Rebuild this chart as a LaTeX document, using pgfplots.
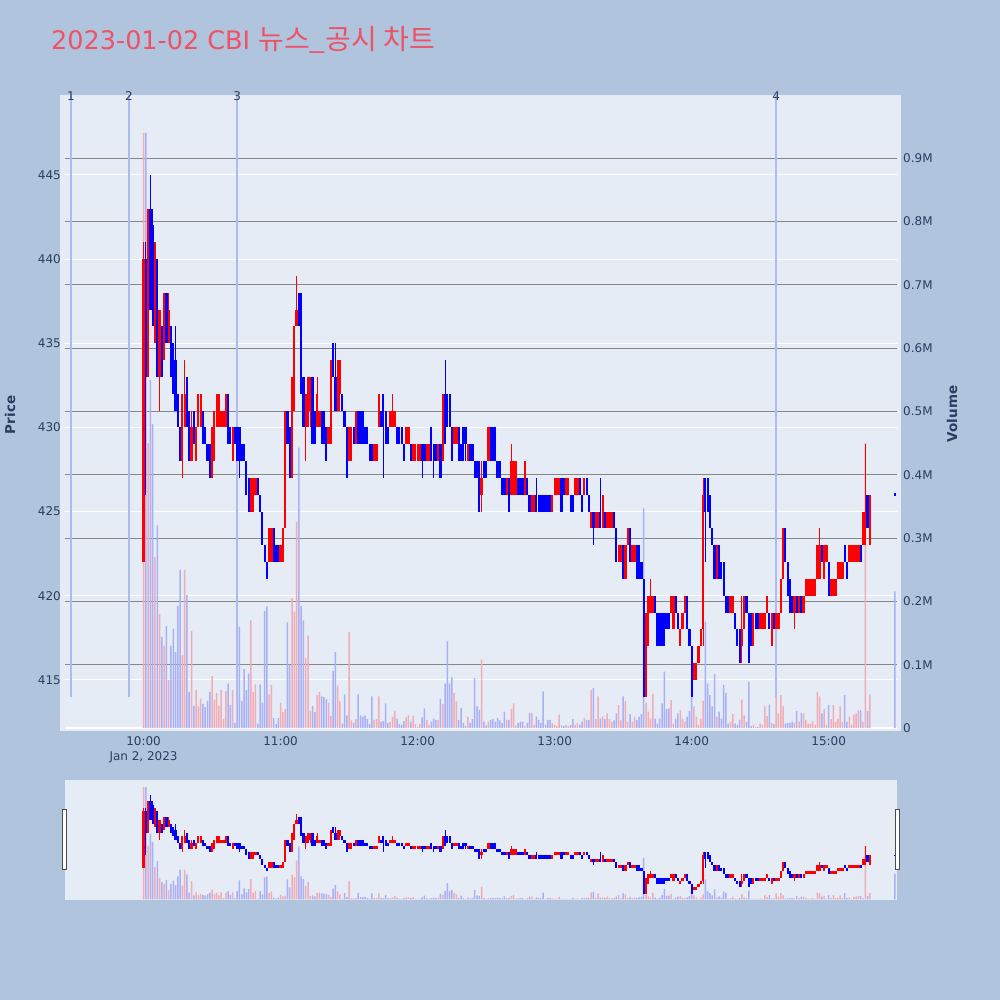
\documentclass[border=0pt]{standalone}
\usepackage{pgfplots}
\pgfplotsset{compat=1.18}
\usepackage{pgfplotstable}
\usepackage{fontspec}
\setmainfont{DejaVu Sans}
\newfontfamily\kr{Noto Sans CJK KR}
\definecolor{pagebg}{RGB}{176,196,222}
\definecolor{plotbg}{RGB}{229,236,246}
\definecolor{fontc}{RGB}{42,63,95}
\definecolor{titlec}{RGB}{238,82,102}
\definecolor{volb}{RGB}{170,176,246}
\definecolor{volr}{RGB}{242,172,182}
\definecolor{vline}{RGB}{172,188,240}
\definecolor{vgrid}{RGB}{135,135,135}
\definecolor{upc}{RGB}{255,0,0}
\definecolor{dnc}{RGB}{0,0,255}

\pgfplotstableread{
t o h l c v
0 422 441 422 440 .94
1 440 441 426 433 .94
2 433 443 433 443 .45
3 443 445 437 437 .55
4 442 443 436 436 .48
5 435 441 435 441 .27
6 440 440 433 433 .32
7 433 437 431 437 .18
8 436 436 433 433 .144
9 434 438 434 438 .13
10 438 438 435 435 .161
11 435 438 435 437 .076
12 436 436 433 433 .13
13 435 435 432 432 .157
14 434 436 431 431 .12
15 432 432 430 430 .193
16 430 430 428 428 .25
17 428 432 427 432 .115
18 430 434 430 432 .25
19 433 433 430 430 .21
20 431 431 428 428 .057
21 428 431 428 430 .153
22 431 431 429 429 .035
23 428 430 428 430 .06
24 430 432 430 432 .034
25 430 432 430 432 .046
26 431 431 429 429 .038
27 430 430 429 429 .033
28 429 429 428 428 .043
29 429 429 427 427 .057
30 427 430 427 430 .082
31 428 431 428 431 .045
32 430 432 430 432 .055
33 430 432 430 432 .035
34 430 431 430 431 .06
35 430 431 430 431 .014
36 430 432 430 432 .058
37 432 432 429 429 .07
38 430 430 429 429 .036
39 428 430 428 430 .06
40 430 430 429 429 .008
41 430 430 428 428 .07
42 430 430 427 428 .16
43 429 429 428 428 .043
44 429 429 428 428 .093
45 428 428 426 426 .06
46 427 427 425 425 .086
47 425 427 425 427 .17
48 425 427 425 427 .057
49 426 427 426 427 .069
50 427 427 426 426 .007
51 426 426 425 425 .069
52 425 425 423 423 .04
53 423 423 422 422 .185
54 422 422 421 421 .192
55 422 424 422 424 .053
56 422 424 422 424 .068
57 424 424 422 422 .016
58 423 423 422 422 .006
59 423 423 422 422 .016
60 422 423 422 423 .04
61 422 424 422 424 .025
62 424 431 424 431 .03
63 431 431 429 429 .167
64 430 430 427 427 .10
65 427 433 427 433 .205
66 431 436 431 436 .184
67 436 439 436 437 .326
68 438 438 436 436 .443
69 438 438 432 432 .193
70 433 433 430 430 .17
71 430 432 428 432 .111
72 430 433 430 433 .146
73 431 433 430 433 .027
74 433 433 429 429 .035
75 431 431 429 429 .025
76 430 433 430 432 .052
77 430 431 430 431 .057
78 431 431 429 429 .05
79 431 431 429 429 .049
80 430 430 428 428 .046
81 429 430 429 430 .04
82 429 434 429 434 .019
83 435 435 433 433 .09
84 433 435 431 431 .12
85 431 434 431 434 .067
86 432 434 431 434 .042
87 432 432 431 431 .007
88 431 431 430 430 .053
89 430 430 427 427 .02
90 428 430 428 430 .152
91 428 430 428 430 .012
92 430 430 429 429 .008
93 429 431 429 431 .014
94 431 431 429 429 .053
95 431 431 429 429 .02
96 431 431 429 429 .018
97 430 430 429 429 .02
98 430 430 429 429 .014
99 429 429 428 428 .006
100 429 429 428 428 .05
101 428 429 428 429 .013
102 428 429 428 429 .014
103 430 432 430 432 .05
104 431 431 430 430 .01
105 432 432 427 430 .011
106 431 431 429 429 .039
107 430 430 429 429 .008
108 430 431 430 431 .01
109 430 432 430 431 .018
110 430 431 430 431 .027
111 430 430 429 429 .015
112 430 430 429 429 .006
113 430 430 429 429 .005
114 429 429 428 428 .011
115 429 430 429 430 .017
116 429 430 429 430 .02
117 429 429 428 428 .01
118 428 429 428 429 .019
119 428 429 428 429 .006
120 428 429 428 429 .002
121 428 429 428 429 .006
122 429 429 427 428 .017
123 429 429 428 428 .031
124 428 429 428 429 .013
125 428 429 428 429 .005
126 430 430 428 428 .01
127 429 429 427 428 .015
128 429 429 428 428 .013
129 428 429 428 429 .013
130 429 429 427 427 .046
131 428 432 428 432 .038
132 432 434 429 429 .07
133 432 432 430 430 .137
134 432 432 430 430 .07
135 430 430 428 428 .08
136 429 430 429 430 .055
137 429 430 429 430 .042
138 430 430 428 428 .013
139 429 429 428 428 .032
140 430 430 428 428 .008
141 430 430 428 429 .003
142 428 429 428 429 .018
143 429 429 428 428 .008
144 429 429 428 428 .014
145 428 428 427 427 .079
146 428 428 427 427 .034
147 428 428 425 425 .029
148 426 428 425 427 .108
149 428 428 427 427 .01
150 428 428 427 427 .004
151 428 430 428 430 .01
152 430 430 428 428 .013
153 430 430 428 428 .014
154 430 430 428 428 .01
155 428 428 427 427 .016
156 428 428 427 427 .012
157 427 427 426 426 .008
158 427 427 426 426 .026
159 426 427 426 427 .013
160 427 427 425 425 .013
161 426 429 426 428 .03
162 426 428 426 428 .039
163 426 428 426 428 .004
164 427 427 426 426 .008
165 427 427 426 426 .01
166 427 427 426 426 .01
167 426 428 426 428 .003
168 427 427 426 426 .008
169 426 426 425 425 .024
170 425 426 425 426 .024
171 425 426 425 426 .005
172 426 427 425 425 .018
173 426 426 425 425 .013
174 426 426 425 425 .008
175 426 426 425 425 .058
176 426 426 425 425 .005
177 426 426 425 425 .013
178 426 426 425 425 .013
179 425 426 425 426 .008
180 426 427 426 427 .005
181 426 427 426 427 .003
182 426 427 426 427 .021
183 427 427 425 425 .004
184 427 427 426 426 .003
185 426 427 426 427 .005
186 426 427 426 427 .003
187 426 426 425 425 .005
188 426 426 425 425 .014
189 426 427 426 427 .005
190 426 427 426 427 .008
191 427 427 426 426 .005
192 426 426 425 425 .01
193 426 427 426 427 .016
194 427 427 426 426 .013
195 426 426 425 425 .013
196 424 425 424 425 .06
197 425 425 423 424 .063
198 424 425 424 425 .014
199 424 425 424 425 .05
200 425 427 424 424 .015
201 424 426 424 426 .018
202 425 425 424 424 .014
203 424 425 424 425 .023
204 424 425 424 425 .014
205 424 425 424 425 .01
206 425 425 424 424 .012
207 424 424 422 422 .023
208 422 423 422 423 .036
209 422 423 422 423 .012
210 423 423 421 421 .05
211 421 423 421 423 .042
212 423 424 423 424 .01
213 424 424 422 422 .022
214 422 423 422 423 .01
215 422 423 422 423 .018
216 423 423 421 421 .013
217 423 423 421 421 .018
218 422 422 421 421 .022
219 421 421 414 414 .347
220 414 419 414 419 .04
221 417 420 417 420 .026
222 419 421 419 420 .015
223 419 420 419 420 .054
224 420 420 419 419 .015
225 419 419 417 417 .007
226 419 419 417 417 .015
227 419 419 417 417 .039
228 419 419 417 417 .089
229 419 419 418 418 .03
230 419 419 418 418 .031
231 419 420 419 420 .044
232 418 420 418 420 .007
233 420 420 419 419 .015
234 419 419 418 418 .023
235 417 418 417 418 .028
236 418 419 418 419 .015
237 419 420 419 420 .01
238 420 420 418 418 .018
239 418 418 417 417 .027
240 417 417 414 414 .049
241 415 416 415 416 .034
242 415 416 415 416 .018
243 416 417 416 417 .005
244 417 418 417 418 .015
245 418 427 417 426 .043
246 427 427 422 425 .168
247 427 427 425 425 .07
248 426 426 424 424 .052
249 424 424 423 423 .034
250 423 423 421 421 .085
251 421 423 421 423 .018
252 423 423 421 421 .026
253 422 422 421 421 .015
254 422 422 420 420 .068
255 420 420 419 419 .055
256 420 420 419 419 .007
257 419 420 419 420 .01
258 419 420 419 420 .022
259 419 419 418 418 .007
260 418 418 417 417 .005
261 418 418 416 416 .013
262 417 420 416 418 .045
263 418 420 418 420 .02
264 420 420 419 419 .01
265 419 419 416 416 .073
266 419 419 417 417 .003
267 417 419 417 419 .005
268 419 419 418 418 .002
269 419 419 418 418 .002
270 418 419 418 419 .007
271 418 419 418 419 .005
272 418 419 418 419 .034
273 419 420 419 420 .019
274 419 419 418 418 .037
275 417 419 417 419 .008
276 419 419 418 418 .006
277 418 419 418 419 .05
278 418 419 418 419 .023
279 419 421 419 421 .052
280 421 424 421 424 .034
281 424 424 422 422 .007
282 422 422 420 420 .008
283 421 421 419 419 .008
284 420 420 419 419 .01
285 419 420 418 420 .008
286 420 420 419 419 .027
287 419 420 419 420 .01
288 420 420 419 419 .024
289 419 420 419 420 .023
290 420 421 420 421 .013
291 420 421 420 421 .007
292 420 421 420 421 .007
293 420 421 420 421 .011
294 420 421 420 421 .005
295 421 423 421 423 .057
296 421 424 421 423 .05
297 423 423 422 422 .023
298 421 423 421 423 .03
299 422 423 422 423 .005
300 422 422 420 420 .036
301 420 421 420 421 .014
302 420 421 420 421 .036
303 420 421 420 421 .01
304 421 422 421 422 .015
305 421 422 421 422 .034
306 421 422 421 422 .01
307 423 423 422 422 .052
308 422 422 421 421 .01
309 422 423 422 423 .018
310 422 423 422 423 .005
311 422 423 422 423 .021
312 422 423 422 423 .023
313 422 423 422 423 .028
314 423 423 422 422 .028
315 423 425 423 425 .01
316 423 429 423 425 .45
317 426 426 424 424 .027
318 423 426 423 426 .053
329 426.1 426.1 425.9 425.9 .216
}\data

\tikzset{tlab/.style={font=\fontsize{12bp}{14bp}\selectfont, text=fontc, inner sep=0pt}}
\pgfplotsset{
  common/.style={scale only axis, width=832bp, xmin=-34.4, xmax=329.9,
    axis line style={draw=none}, tick style={draw=none}},
  candle/.style 2 args={draw=none, mark=none, forget plot,
    error bars/.cd, y dir=both, y explicit, error mark=none,
    error bar style={line width=#2, draw=#1}},
  vbar/.style={ybar, bar width=1.5bp, bar shift=0pt, draw=none, fill=#1, forget plot},
}

\newcommand{\candles}{%
  \addplot[candle={upc}{1bp}] table[x=t, y expr={\thisrow{c}>\thisrow{o} ? (\thisrow{h}+\thisrow{l})/2 : nan}, y error expr={(\thisrow{h}-\thisrow{l})/2}] {\data};
  \addplot[candle={upc}{2.2bp}] table[x=t, y expr={\thisrow{c}>\thisrow{o} ? (\thisrow{o}+\thisrow{c})/2 : nan}, y error expr={abs(\thisrow{c}-\thisrow{o})/2}] {\data};
  \addplot[candle={dnc}{1bp}] table[x=t, y expr={\thisrow{c}<\thisrow{o} ? (\thisrow{h}+\thisrow{l})/2 : nan}, y error expr={(\thisrow{h}-\thisrow{l})/2}] {\data};
  \addplot[candle={dnc}{2.2bp}] table[x=t, y expr={\thisrow{c}<\thisrow{o} ? (\thisrow{o}+\thisrow{c})/2 : nan}, y error expr={abs(\thisrow{c}-\thisrow{o})/2}] {\data};
}
\newcommand{\volumes}{%
  \addplot[vbar=volr] table[x=t, y expr={\thisrow{c}>\thisrow{o} ? \thisrow{v} : nan}] {\data};
  \addplot[vbar=volb] table[x=t, y expr={\thisrow{c}<\thisrow{o} ? \thisrow{v} : nan}] {\data};
}

\begin{document}
\begin{tikzpicture}
\useasboundingbox (0,0) rectangle (1000bp,1000bp);
\fill[pagebg] (0,0) rectangle (1000bp,1000bp);
\fill[plotbg] (60bp,269bp) rectangle (901bp,905bp);
\fill[plotbg] (65bp,100bp) rectangle (897bp,220bp);

\node[anchor=base west, inner sep=0pt, text=titlec, font=\fontsize{25.5bp}{30bp}\selectfont] at (51bp,950bp) {2023-01-02 CBI {\kr\fontsize{28bp}{30bp}\selectfont 뉴스\_공시 차트}};

% price axis: grid and ticks
\begin{axis}[common, at={(65bp,269bp)}, anchor=south west, height=636bp,
  ymin=411.96, ymax=449.75,
  ytick={415,420,425,430,435,440,445}, yticklabels={415,420,425,430,435,440,445},
  ymajorgrids, grid style={white, line width=1bp},
  xtick={0,60,120,180,240,300},
  xticklabels={{10:00\\[1.5bp]Jan 2, 2023},11:00,12:00,13:00,14:00,15:00},
  xticklabel style={tlab, yshift=-5bp, align=center},
  yticklabel style={tlab, xshift=-4bp}]
\addplot[draw=none, forget plot] coordinates {(0,430)};
\end{axis}

% volume axis
\begin{axis}[common, at={(65bp,269bp)}, anchor=south west, height=636bp,
  ymin=-0.0047, ymax=1.0, xtick=\empty,
  ytick={0,0.1,0.2,0.3,0.4,0.5,0.6,0.7,0.8,0.9},
  yticklabels={0,0.1M,0.2M,0.3M,0.4M,0.5M,0.6M,0.7M,0.8M,0.9M},
  yticklabel pos=right, yticklabel style={tlab, anchor=west, xshift=6bp},
  ymajorgrids, grid style={vgrid, line width=1.2bp}]
\draw[white, line width=2bp] (axis cs:-34.4,0) -- (axis cs:329.9,0);
\volumes
\end{axis}

% candles and markers
\begin{axis}[common, at={(65bp,269bp)}, anchor=south west, height=636bp,
  ymin=411.96, ymax=449.75, hide axis, clip=false]
\foreach \tx/\lab in {-31.8/1, -6.4/2, 41.0/3, 277.0/4} {
  \edef\tmp{\noexpand\draw[vline, line width=1.5bp] (axis cs:\tx,413.96) -- (axis cs:\tx,449.75);
  \noexpand\node[tlab, yshift=-1.5bp] at (axis cs:\tx,449.75) {\lab};}
  \tmp
}
\candles
\end{axis}

% range slider
\begin{axis}[common, at={(65bp,100bp)}, anchor=south west, height=120bp,
  ymin=-0.0047, ymax=1.0, hide axis]
\volumes
\end{axis}
\begin{axis}[common, at={(65bp,100bp)}, anchor=south west, height=120bp,
  ymin=411.96, ymax=449.75, hide axis]
\candles
\end{axis}
\filldraw[fill=white, draw=black!70, line width=1bp] (62.5bp,130bp) rectangle (66.5bp,190bp);
\filldraw[fill=white, draw=black!70, line width=1bp] (895bp,130bp) rectangle (899bp,190bp);

\node[rotate=90, text=fontc, font=\bfseries\fontsize{13.5bp}{16bp}\selectfont] at (10bp,585bp) {Price};
\node[rotate=90, text=fontc, font=\bfseries\fontsize{13.5bp}{16bp}\selectfont] at (952bp,586bp) {Volume};
\end{tikzpicture}
\end{document}
